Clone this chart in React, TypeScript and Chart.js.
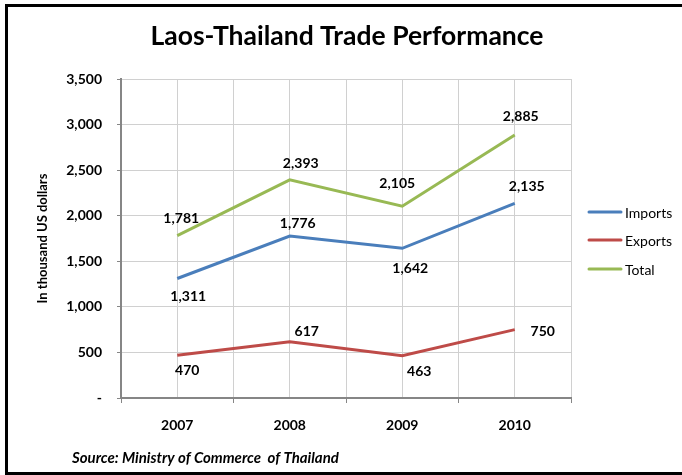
import React, { useEffect, useRef } from "react";
import { Chart, registerables } from "chart.js";

Chart.register(...registerables);

const categories = ["2007", "2008", "2009", "2010"];
const imports = [1311, 1776, 1642, 2135];
const exportsData = [470, 617, 463, 750];
const totals = [1781, 2393, 2105, 2885];
const seriesNames = ["Imports", "Exports", "Total"];
const yTicksMax = 3500;
const yTickStep = 500;

// label offsets relative to the point (layout, not data)
const labelOffsets = [
  [[11, 18], [8, -13], [8, 20], [12, -17]],
  [[10, 15], [17, -10], [17, 16], [28, 2]],
  [[4, -17], [11, -16], [-5, -23], [6, -19]],
];

const colors = ["#4A7EBB", "#BE4B48", "#98B954"];
const FONT = "Lato, 'Open Sans', sans-serif";

export default function App() {
  const ref = useRef<HTMLCanvasElement | null>(null);

  useEffect(() => {
    const canvas = ref.current!;
    const series = [imports, exportsData, totals];

    const decor = {
      id: "decor",
      beforeDraw(chart: any) {
        const ctx = chart.ctx;
        ctx.save();
        ctx.fillStyle = "#ffffff";
        ctx.fillRect(0, 0, chart.width, chart.height);
        ctx.strokeStyle = "#000000";
        ctx.lineWidth = 3;
        ctx.strokeRect(6.5, 5.5, 720, 468);
        ctx.restore();
      },
      afterDraw(chart: any) {
        const ctx = chart.ctx;
        ctx.save();
        // title
        ctx.fillStyle = "#000";
        ctx.font = `bold 26.5px ${FONT}`;
        ctx.textAlign = "center";
        ctx.textBaseline = "alphabetic";
        ctx.fillText("Laos-Thailand Trade Performance", 347, 45);
        // legend
        ctx.font = `14px ${FONT}`;
        ctx.textAlign = "left";
        ctx.textBaseline = "middle";
        const ly = [212, 240, 269];
        seriesNames.forEach((n, i) => {
          ctx.strokeStyle = colors[i];
          ctx.lineWidth = 3;
          ctx.lineCap = "round";
          ctx.beginPath();
          ctx.moveTo(589, ly[i]);
          ctx.lineTo(621, ly[i]);
          ctx.stroke();
          ctx.fillStyle = "#000";
          ctx.fillText(n, 625, ly[i] + 1);
        });
        // source
        ctx.font = `italic bold 15px ${FONT}`;
        ctx.fillText("Source: Ministry of Commerce  of Thailand", 72, 458);
        ctx.restore();
      },
      afterDatasetsDraw(chart: any) {
        const ctx = chart.ctx;
        ctx.save();
        ctx.font = `bold 14px ${FONT}`;
        ctx.fillStyle = "#000";
        ctx.textAlign = "center";
        ctx.textBaseline = "middle";
        series.forEach((vals, i) => {
          const meta = chart.getDatasetMeta(i);
          vals.forEach((v, j) => {
            const p = meta.data[j];
            const [dx, dy] = labelOffsets[i][j];
            ctx.fillText(v.toLocaleString("en-US"), p.x + dx, p.y + dy);
          });
        });
        ctx.restore();
      },
    };

    const chart = new Chart(canvas, {
      type: "line",
      data: {
        datasets: series.map((vals, i) => ({
          label: seriesNames[i],
          data: vals.map((v, j) => ({ x: j + 1, y: v })),
          borderColor: colors[i],
          backgroundColor: colors[i],
          borderWidth: 3,
          pointRadius: 0,
          tension: 0,
        })),
      },
      options: {
        animation: false,
        responsive: false,
        events: [],
        layout: { padding: { top: 79, right: 111, left: 0, bottom: 0 } },
        plugins: { legend: { display: false }, title: { display: false }, tooltip: { enabled: false } },
        scales: {
          x: {
            type: "linear",
            min: 0.5,
            max: 4.5,
            afterFit(scale: any) {
              scale.height = 77;
            },
            afterBuildTicks(scale: any) {
              const t = [];
              for (let v = 0.5; v <= 4.5001; v += 0.5) t.push({ value: v });
              scale.ticks = t;
            },
            ticks: {
              autoSkip: false,
              maxRotation: 0,
              padding: 14,
              color: "#000",
              font: { family: FONT, size: 14, weight: "bold" },
              callback: (v: any) => {
                const n = Number(v);
                return Number.isInteger(n) ? categories[n - 1] : "";
              },
            },
            grid: {
              color: "#D0D0D0",
              lineWidth: 1,
              tickLength: 5,
              tickColor: (c: any) => (Number.isInteger(c.tick?.value) ? "rgba(0,0,0,0)" : "#868686"),
            },
            border: { color: "#868686", width: 2 },
          },
          y: {
            min: 0,
            max: yTicksMax,
            afterFit(scale: any) {
              scale.width = 121;
            },
            ticks: {
              stepSize: yTickStep,
              padding: 15,
              color: "#000",
              font: { family: FONT, size: 14, weight: "bold" },
              callback: (v: any) => (Number(v) === 0 ? "-" : Number(v).toLocaleString("en-US")),
            },
            grid: {
              color: "#D0D0D0",
              lineWidth: 1,
              tickLength: 4,
              tickColor: "#868686",
            },
            border: { color: "#868686", width: 2 },
            title: {
              display: true,
              text: "In thousand US dollars",
              color: "#000",
              font: { family: FONT, size: 13, weight: "bold" },
              padding: { top: 35, bottom: 0 },
            },
          },
        },
      },
      plugins: [decor],
    } as any);

    return () => chart.destroy();
  }, []);

  return (
    <div style={{ position: "absolute", left: 0, top: 0, width: 682, height: 475 }}>
      <canvas ref={ref} width={682} height={475} style={{ width: 682, height: 475, display: "block" }} />
    </div>
  );
}
